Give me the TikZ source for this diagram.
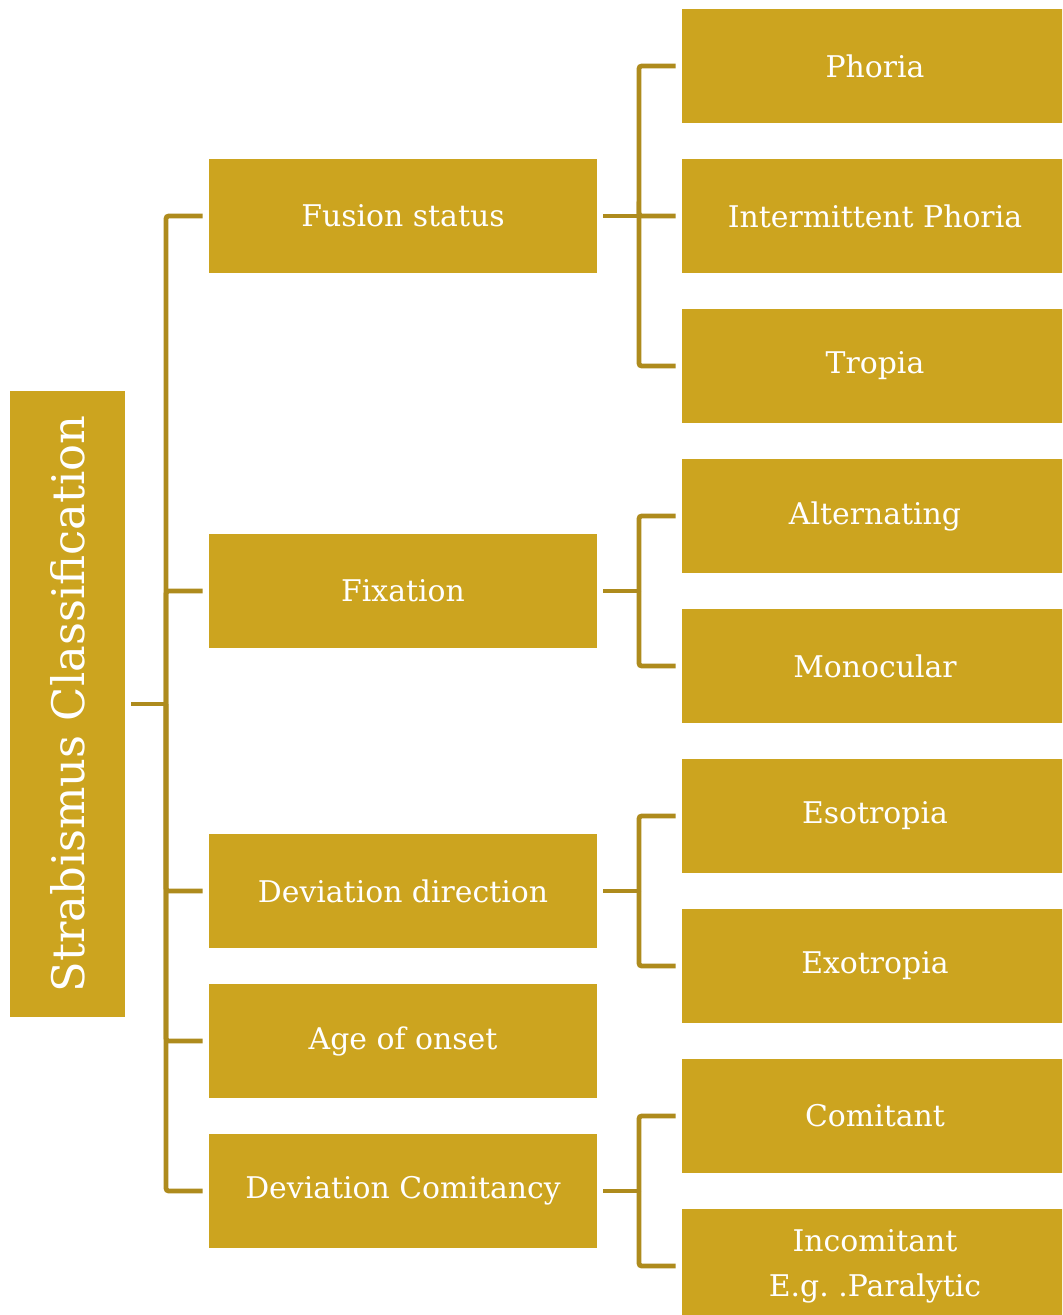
\documentclass[tikz,border=0pt]{standalone}
\usepackage{fontspec}
\setmainfont{DejaVu Serif}
\usepackage{xcolor}
\usetikzlibrary{positioning,calc}
\definecolor{boxgold}{HTML}{CCA41F}
\definecolor{linegold}{HTML}{AE8B1D}
\frenchspacing

\begin{document}
\begin{tikzpicture}[x=0.02cm,y=-0.02cm,
    catbox/.style={fill=boxgold,text=white,inner sep=0pt,
        minimum width=7.76cm,minimum height=2.28cm,align=center,
        font=\fontsize{17}{25.5}\selectfont},
    leafbox/.style={catbox,minimum width=7.72cm},
    rootbox/.style={catbox,rotate=90,minimum width=12.52cm,
        minimum height=2.3cm,font=\fontsize{25.5}{30}\selectfont},
    branch/.style={draw=linegold,line width=2.7pt,rounded corners=1.5pt}]
    \useasboundingbox (0,0) rectangle (1062,1315);
    \clip (0,0) rectangle (1062,1315);

    % root
    \node[rootbox] (root) at (67.5,704) {Strabismus Classification};

    % first level
    \begin{scope}[every node/.style={catbox}]
        \node (fus) at (403,216) {Fusion status};
        \node (fix) at (403,591) {Fixation};
        \node (dir) at (403,891) {Deviation direction};
        \node (age) at (403,1041) {Age of onset};
        \node (com) at (403,1191) {Deviation Comitancy};
    \end{scope}

    % second level
    \begin{scope}[every node/.style={leafbox}]
        \node (pho) at (875,66) {Phoria};
        \node (int) at (875,216) {Intermittent Phoria};
        \node (tro) at (875,366) {Tropia};
        \node (alt) at (875,516) {Alternating};
        \node (mon) at (875,666) {Monocular};
        \node (eso) at (875,816) {Esotropia};
        \node (exo) at (875,966) {Exotropia};
        \node (cmt) at (875,1116) {Comitant};
        \node (inc) at (875,1266) {Incomitant\\E.g. .Paralytic};
    \end{scope}

    % junctions
    \coordinate (rj) at (166,704);
    \coordinate (fusj) at (639,216);
    \coordinate (fixj) at (639,591);
    \coordinate (dirj) at (639,891);
    \coordinate (comj) at (639,1191);

    % connectors
    \draw[branch,rounded corners=0pt] ([xshift=0.12cm]root.south) -- (rj);
    \foreach \c in {fus,fix,dir,age,com}
        \draw[branch] (rj) |- ([xshift=-0.12cm]\c.west);

    \foreach \p/\kids in {fus/{pho,int,tro},fix/{alt,mon},dir/{eso,exo},com/{cmt,inc}}{
        \draw[branch] ([xshift=0.12cm]\p.east) -- (\p j);
        \foreach \k in \kids
            \draw[branch] (\p j) |- ([xshift=-0.12cm]\k.west);
    }
\end{tikzpicture}
\end{document}
